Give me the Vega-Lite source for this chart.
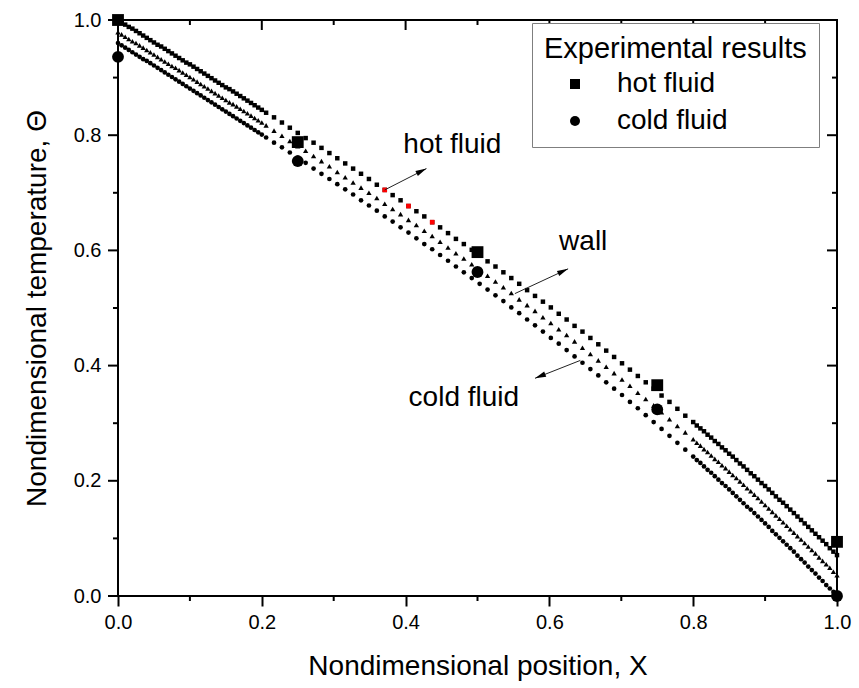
{
  "$schema": "https://vega.github.io/schema/vega-lite/v6.json",
  "width": 719,
  "height": 576,
  "autosize": {"type": "none"},
  "padding": {"left": 118, "top": 20, "right": 22, "bottom": 92},
  "background": "white",
  "config": {
    "font": "Liberation Sans",
    "view": {"stroke": "black", "strokeWidth": 2},
    "axis": {"grid": false, "domain": false, "ticks": false, "labelFlush": false, "labelColor": "black", "titleColor": "black", "labelFontSize": 20, "titleFontSize": 28, "titleFontWeight": "normal", "labelFont": "Liberation Sans", "titleFont": "Liberation Sans"}
  },
  "datasets": {
    "curves": [
      {"x":0,"h":1.000,"w":0.979,"c":0.960},{"x":0.005,"h":0.996,"w":0.975,"c":0.956},{"x":0.01,"h":0.992,"w":0.971,"c":0.952},{"x":0.015,"h":0.988,"w":0.967,"c":0.948},{"x":0.02,"h":0.985,"w":0.963,"c":0.944},{"x":0.025,"h":0.981,"w":0.960,"c":0.940},{"x":0.03,"h":0.977,"w":0.956,"c":0.936},{"x":0.035,"h":0.973,"w":0.952,"c":0.932},{"x":0.04,"h":0.969,"w":0.948,"c":0.929},{"x":0.045,"h":0.965,"w":0.944,"c":0.925},{"x":0.05,"h":0.961,"w":0.940,"c":0.921},{"x":0.055,"h":0.957,"w":0.936,"c":0.917},{"x":0.06,"h":0.954,"w":0.932,"c":0.913},{"x":0.065,"h":0.950,"w":0.928,"c":0.909},{"x":0.07,"h":0.946,"w":0.924,"c":0.905},{"x":0.075,"h":0.942,"w":0.920,"c":0.901},{"x":0.08,"h":0.938,"w":0.917,"c":0.897},{"x":0.085,"h":0.934,"w":0.913,"c":0.893},{"x":0.09,"h":0.930,"w":0.909,"c":0.889},{"x":0.095,"h":0.926,"w":0.905,"c":0.885},{"x":0.1,"h":0.923,"w":0.901,"c":0.881},{"x":0.105,"h":0.919,"w":0.897,"c":0.877},{"x":0.11,"h":0.915,"w":0.893,"c":0.873},{"x":0.115,"h":0.911,"w":0.889,"c":0.869},{"x":0.12,"h":0.907,"w":0.885,"c":0.865},{"x":0.125,"h":0.903,"w":0.881,"c":0.861},{"x":0.13,"h":0.899,"w":0.877,"c":0.857},{"x":0.135,"h":0.895,"w":0.873,"c":0.853},{"x":0.14,"h":0.891,"w":0.869,"c":0.849},{"x":0.145,"h":0.887,"w":0.865,"c":0.845},{"x":0.15,"h":0.883,"w":0.861,"c":0.841},{"x":0.155,"h":0.880,"w":0.857,"c":0.837},{"x":0.16,"h":0.876,"w":0.854,"c":0.833},{"x":0.165,"h":0.872,"w":0.850,"c":0.829},{"x":0.17,"h":0.868,"w":0.846,"c":0.825},{"x":0.175,"h":0.864,"w":0.842,"c":0.821},{"x":0.18,"h":0.860,"w":0.838,"c":0.817},{"x":0.185,"h":0.856,"w":0.834,"c":0.813},{"x":0.19,"h":0.852,"w":0.830,"c":0.809},{"x":0.195,"h":0.848,"w":0.826,"c":0.805},{"x":0.2,"h":0.844,"w":0.822,"c":0.801},
      {"x":0.206,"h":0.839,"w":0.817,"c":0.796},{"x":0.217,"h":0.831,"w":0.808,"c":0.787},{"x":0.228,"h":0.822,"w":0.799,"c":0.779},{"x":0.239,"h":0.813,"w":0.790,"c":0.770},{"x":0.25,"h":0.804,"w":0.781,"c":0.761},{"x":0.261,"h":0.795,"w":0.773,"c":0.752},{"x":0.272,"h":0.787,"w":0.764,"c":0.742},{"x":0.283,"h":0.778,"w":0.755,"c":0.733},{"x":0.294,"h":0.769,"w":0.746,"c":0.724},{"x":0.305,"h":0.760,"w":0.736,"c":0.715},{"x":0.316,"h":0.751,"w":0.727,"c":0.706},{"x":0.327,"h":0.742,"w":0.718,"c":0.697},{"x":0.338,"h":0.733,"w":0.709,"c":0.687},{"x":0.349,"h":0.724,"w":0.700,"c":0.678},{"x":0.36,"h":0.714,"w":0.691,"c":0.669},{"x":0.371,"h":0.705,"w":0.681,"c":0.659},{"x":0.382,"h":0.696,"w":0.672,"c":0.650},{"x":0.393,"h":0.687,"w":0.663,"c":0.640},{"x":0.404,"h":0.677,"w":0.653,"c":0.631},{"x":0.415,"h":0.668,"w":0.644,"c":0.621},{"x":0.426,"h":0.659,"w":0.634,"c":0.611},{"x":0.437,"h":0.649,"w":0.625,"c":0.602},{"x":0.448,"h":0.640,"w":0.615,"c":0.592},{"x":0.459,"h":0.630,"w":0.605,"c":0.582},{"x":0.47,"h":0.620,"w":0.595,"c":0.572},{"x":0.481,"h":0.611,"w":0.586,"c":0.562},{"x":0.492,"h":0.601,"w":0.576,"c":0.552},{"x":0.503,"h":0.591,"w":0.566,"c":0.542},{"x":0.514,"h":0.581,"w":0.556,"c":0.532},{"x":0.525,"h":0.572,"w":0.546,"c":0.522},{"x":0.536,"h":0.562,"w":0.536,"c":0.512},{"x":0.547,"h":0.552,"w":0.526,"c":0.501},{"x":0.558,"h":0.542,"w":0.515,"c":0.491},{"x":0.569,"h":0.531,"w":0.505,"c":0.480},{"x":0.58,"h":0.521,"w":0.495,"c":0.470},{"x":0.591,"h":0.511,"w":0.484,"c":0.459},{"x":0.602,"h":0.501,"w":0.474,"c":0.448},{"x":0.613,"h":0.490,"w":0.463,"c":0.438},{"x":0.624,"h":0.480,"w":0.453,"c":0.427},{"x":0.635,"h":0.469,"w":0.442,"c":0.416},{"x":0.646,"h":0.459,"w":0.431,"c":0.405},{"x":0.657,"h":0.448,"w":0.420,"c":0.394},{"x":0.668,"h":0.437,"w":0.409,"c":0.383},{"x":0.679,"h":0.426,"w":0.398,"c":0.371},{"x":0.69,"h":0.415,"w":0.387,"c":0.360},{"x":0.701,"h":0.404,"w":0.376,"c":0.349},{"x":0.712,"h":0.393,"w":0.365,"c":0.337},{"x":0.723,"h":0.382,"w":0.353,"c":0.326},{"x":0.734,"h":0.371,"w":0.342,"c":0.314},{"x":0.745,"h":0.360,"w":0.331,"c":0.302},{"x":0.756,"h":0.348,"w":0.319,"c":0.290},{"x":0.767,"h":0.337,"w":0.307,"c":0.278},{"x":0.778,"h":0.325,"w":0.295,"c":0.266},{"x":0.789,"h":0.313,"w":0.284,"c":0.254},{"x":0.8,"h":0.302,"w":0.272,"c":0.242},
      {"x":0.805,"h":0.296,"w":0.266,"c":0.236},{"x":0.81,"h":0.291,"w":0.261,"c":0.231},{"x":0.815,"h":0.286,"w":0.255,"c":0.225},{"x":0.82,"h":0.280,"w":0.250,"c":0.219},{"x":0.825,"h":0.275,"w":0.244,"c":0.214},{"x":0.83,"h":0.269,"w":0.238,"c":0.208},{"x":0.835,"h":0.264,"w":0.233,"c":0.202},{"x":0.84,"h":0.258,"w":0.227,"c":0.196},{"x":0.845,"h":0.253,"w":0.222,"c":0.191},{"x":0.85,"h":0.247,"w":0.216,"c":0.185},{"x":0.855,"h":0.242,"w":0.210,"c":0.179},{"x":0.86,"h":0.236,"w":0.205,"c":0.173},{"x":0.865,"h":0.230,"w":0.199,"c":0.167},{"x":0.87,"h":0.225,"w":0.193,"c":0.161},{"x":0.875,"h":0.219,"w":0.187,"c":0.155},{"x":0.88,"h":0.213,"w":0.182,"c":0.150},{"x":0.885,"h":0.208,"w":0.176,"c":0.144},{"x":0.89,"h":0.202,"w":0.170,"c":0.138},{"x":0.895,"h":0.196,"w":0.164,"c":0.132},{"x":0.9,"h":0.191,"w":0.158,"c":0.126},{"x":0.905,"h":0.185,"w":0.152,"c":0.120},{"x":0.91,"h":0.179,"w":0.146,"c":0.113},{"x":0.915,"h":0.173,"w":0.140,"c":0.107},{"x":0.92,"h":0.167,"w":0.134,"c":0.101},{"x":0.925,"h":0.162,"w":0.128,"c":0.095},{"x":0.93,"h":0.156,"w":0.122,"c":0.089},{"x":0.935,"h":0.150,"w":0.116,"c":0.083},{"x":0.94,"h":0.144,"w":0.110,"c":0.077},{"x":0.945,"h":0.138,"w":0.104,"c":0.070},{"x":0.95,"h":0.132,"w":0.098,"c":0.064},{"x":0.955,"h":0.126,"w":0.092,"c":0.058},{"x":0.96,"h":0.120,"w":0.086,"c":0.051},{"x":0.965,"h":0.114,"w":0.080,"c":0.045},{"x":0.97,"h":0.108,"w":0.074,"c":0.039},{"x":0.975,"h":0.102,"w":0.067,"c":0.032},{"x":0.98,"h":0.096,"w":0.061,"c":0.026},{"x":0.985,"h":0.090,"w":0.055,"c":0.019},{"x":0.99,"h":0.083,"w":0.049,"c":0.013},{"x":0.995,"h":0.077,"w":0.042,"c":0.007},{"x":1.0,"h":0.071,"w":0.036,"c":0.000}
    ],
    "tickpos": [
      {"v":0,"k":"major"},{"v":0.1,"k":"minor"},{"v":0.2,"k":"major"},{"v":0.3,"k":"minor"},{"v":0.4,"k":"major"},{"v":0.5,"k":"minor"},
      {"v":0.6,"k":"major"},{"v":0.7,"k":"minor"},{"v":0.8,"k":"major"},{"v":0.9,"k":"minor"},{"v":1,"k":"major"}
    ],
    "exp": [
      {"x":0,"y":1.0,"s":"hot fluid"},{"x":0.25,"y":0.788,"s":"hot fluid"},{"x":0.5,"y":0.597,"s":"hot fluid"},{"x":0.75,"y":0.366,"s":"hot fluid"},{"x":1.0,"y":0.094,"s":"hot fluid"},
      {"x":0,"y":0.936,"s":"cold fluid"},{"x":0.25,"y":0.755,"s":"cold fluid"},{"x":0.5,"y":0.5625,"s":"cold fluid"},{"x":0.75,"y":0.324,"s":"cold fluid"},{"x":1.0,"y":0.0,"s":"cold fluid"}
    ],
    "arrows": [
      {"n":"hot","x":0.371,"y":0.705,"x2":0.429,"y2":0.742},
      {"n":"wall","x":0.552,"y":0.525,"x2":0.626,"y2":0.568},
      {"n":"cold","x":0.643,"y":0.409,"x2":0.58,"y2":0.378}
    ],
    "notes": [
      {"t":"hot fluid","x":0.465,"y":0.769},
      {"t":"wall","x":0.647,"y":0.601},
      {"t":"cold fluid","x":0.481,"y":0.329}
    ]
  },
  "layer": [
    {
      "data": {"name": "tickpos"},
      "transform": [{"filter": {"field": "k", "equal": "major"}}],
      "mark": {"type": "point", "shape": "M0,0L-2,0", "filled": false, "size": 100, "strokeWidth": 2, "color": "black", "opacity": 1},
      "encoding": {
        "x": {"datum": 0, "type": "quantitative", "scale": {"domain": [0, 1], "nice": false, "zero": false},
              "axis": {"orient": "bottom", "values": [0, 0.2, 0.4, 0.6, 0.8, 1], "format": ".1f", "ticks": true, "tickSize": 10, "tickWidth": 2, "tickColor": "black", "labelPadding": 6, "title": "Nondimensional position, X", "titlePadding": 20}},
        "y": {"field": "v", "type": "quantitative", "scale": {"domain": [0, 1], "nice": false, "zero": false},
              "axis": {"orient": "left", "values": [0, 0.2, 0.4, 0.6, 0.8, 1], "format": ".1f", "labelPadding": 17, "title": "Nondimensional temperature, Θ", "titlePadding": 22}}
      }
    },
    {
      "data": {"name": "tickpos"},
      "transform": [{"filter": {"field": "k", "equal": "minor"}}],
      "mark": {"type": "point", "shape": "M0,0L0,2", "filled": false, "size": 25, "strokeWidth": 2, "color": "black", "opacity": 1},
      "encoding": {
        "x": {"field": "v", "type": "quantitative", "scale": {"domain": [0, 1], "nice": false, "zero": false}, "axis": null},
        "y": {"datum": 0, "type": "quantitative", "scale": {"domain": [0, 1], "nice": false, "zero": false}, "axis": null}
      }
    },
    {
      "data": {"name": "tickpos"},
      "transform": [{"filter": {"field": "k", "equal": "major"}}],
      "mark": {"type": "point", "shape": "M0,0L0,2", "filled": false, "size": 100, "strokeWidth": 2, "color": "black", "opacity": 1},
      "encoding": {
        "x": {"field": "v", "type": "quantitative", "scale": {"domain": [0, 1], "nice": false, "zero": false}, "axis": null},
        "y": {"datum": 1, "type": "quantitative", "scale": {"domain": [0, 1], "nice": false, "zero": false}, "axis": null}
      }
    },
    {
      "data": {"name": "tickpos"},
      "transform": [{"filter": {"field": "k", "equal": "minor"}}],
      "mark": {"type": "point", "shape": "M0,0L0,2", "filled": false, "size": 25, "strokeWidth": 2, "color": "black", "opacity": 1},
      "encoding": {
        "x": {"field": "v", "type": "quantitative", "scale": {"domain": [0, 1], "nice": false, "zero": false}, "axis": null},
        "y": {"datum": 1, "type": "quantitative", "scale": {"domain": [0, 1], "nice": false, "zero": false}, "axis": null}
      }
    },
    {
      "data": {"name": "tickpos"},
      "transform": [{"filter": {"field": "k", "equal": "minor"}}],
      "mark": {"type": "point", "shape": "M0,0L-2,0", "filled": false, "size": 25, "strokeWidth": 2, "color": "black", "opacity": 1},
      "encoding": {
        "y": {"field": "v", "type": "quantitative", "scale": {"domain": [0, 1], "nice": false, "zero": false}, "axis": null},
        "x": {"datum": 0, "type": "quantitative", "scale": {"domain": [0, 1], "nice": false, "zero": false}, "axis": null}
      }
    },
    {
      "data": {"name": "tickpos"},
      "transform": [{"filter": {"field": "k", "equal": "major"}}],
      "mark": {"type": "point", "shape": "M0,0L-2,0", "filled": false, "size": 100, "strokeWidth": 2, "color": "black", "opacity": 1},
      "encoding": {
        "y": {"field": "v", "type": "quantitative", "scale": {"domain": [0, 1], "nice": false, "zero": false}, "axis": null},
        "x": {"datum": 1, "type": "quantitative", "scale": {"domain": [0, 1], "nice": false, "zero": false}, "axis": null}
      }
    },
    {
      "data": {"name": "tickpos"},
      "transform": [{"filter": {"field": "k", "equal": "minor"}}],
      "mark": {"type": "point", "shape": "M0,0L-2,0", "filled": false, "size": 25, "strokeWidth": 2, "color": "black", "opacity": 1},
      "encoding": {
        "y": {"field": "v", "type": "quantitative", "scale": {"domain": [0, 1], "nice": false, "zero": false}, "axis": null},
        "x": {"datum": 1, "type": "quantitative", "scale": {"domain": [0, 1], "nice": false, "zero": false}, "axis": null}
      }
    },
    {
      "data": {"name": "curves"},
      "mark": {"type": "point", "shape": "square", "filled": true, "size": 20, "color": "black", "opacity": 1},
      "encoding": {
        "x": {"field": "x", "type": "quantitative", "scale": {"domain": [0, 1], "nice": false, "zero": false}, "axis": null},
        "y": {"field": "h", "type": "quantitative", "scale": {"domain": [0, 1], "nice": false, "zero": false}, "axis": null}
      }
    },
    {
      "data": {"name": "curves"},
      "mark": {"type": "point", "shape": "triangle-up", "filled": true, "size": 28, "color": "black", "opacity": 1},
      "encoding": {
        "x": {"field": "x", "type": "quantitative", "scale": {"domain": [0, 1], "nice": false, "zero": false}, "axis": null},
        "y": {"field": "w", "type": "quantitative", "scale": {"domain": [0, 1], "nice": false, "zero": false}, "axis": null}
      }
    },
    {
      "data": {"name": "curves"},
      "mark": {"type": "point", "shape": "circle", "filled": true, "size": 22, "color": "black", "opacity": 1},
      "encoding": {
        "x": {"field": "x", "type": "quantitative", "scale": {"domain": [0, 1], "nice": false, "zero": false}, "axis": null},
        "y": {"field": "c", "type": "quantitative", "scale": {"domain": [0, 1], "nice": false, "zero": false}, "axis": null}
      }
    },
    {
      "data": {"name": "curves"},
      "transform": [{"filter": {"field": "x", "oneOf": [0.371, 0.404, 0.437]}}],
      "mark": {"type": "point", "shape": "square", "filled": true, "size": 22, "color": "#ff0000", "opacity": 1},
      "encoding": {
        "x": {"field": "x", "type": "quantitative", "scale": {"domain": [0, 1], "nice": false, "zero": false}, "axis": null},
        "y": {"field": "h", "type": "quantitative", "scale": {"domain": [0, 1], "nice": false, "zero": false}, "axis": null}
      }
    },
    {
      "data": {"name": "exp"},
      "mark": {"type": "point", "filled": true, "size": 140, "color": "black", "opacity": 1},
      "encoding": {
        "x": {"field": "x", "type": "quantitative", "scale": {"domain": [0, 1], "nice": false, "zero": false}, "axis": null},
        "y": {"field": "y", "type": "quantitative", "scale": {"domain": [0, 1], "nice": false, "zero": false}, "axis": null},
        "shape": {"field": "s", "type": "nominal", "scale": {"domain": ["hot fluid", "cold fluid"], "range": ["square", "circle"]},
                  "legend": {"title": "Experimental results", "orient": "none", "legendX": 414, "legendY": 3, "padding": 12,
                             "strokeColor": "#7f7f7f", "fillColor": "white", "titleFontSize": 29, "titleFontWeight": "normal", "titleColor": "black",
                             "titleFont": "Liberation Sans", "labelFont": "Liberation Sans", "titlePadding": 6, "titleLimit": 600, "labelLimit": 600,
                             "labelFontSize": 28, "labelColor": "black", "symbolSize": 100, "symbolFillColor": "black", "symbolStrokeWidth": 0,
                             "symbolOffset": 17, "labelOffset": 28, "rowPadding": 9}}
      }
    },
    {
      "data": {"name": "arrows"},
      "mark": {"type": "rule", "color": "#222222", "strokeWidth": 1},
      "encoding": {
        "x": {"field": "x", "type": "quantitative", "scale": {"domain": [0, 1], "nice": false, "zero": false}, "axis": null},
        "y": {"field": "y", "type": "quantitative", "scale": {"domain": [0, 1], "nice": false, "zero": false}, "axis": null},
        "x2": {"field": "x2"},
        "y2": {"field": "y2"}
      }
    },
    {
      "data": {"name": "arrows"},
      "transform": [{"filter": {"field": "n", "equal": "hot"}}],
      "mark": {"type": "point", "shape": "M-2,-0.5L0,0L-2,0.5Z", "filled": true, "size": 121, "color": "black", "opacity": 1, "angle": -26.7},
      "encoding": {
        "x": {"field": "x2", "type": "quantitative", "scale": {"domain": [0, 1], "nice": false, "zero": false}, "axis": null},
        "y": {"field": "y2", "type": "quantitative", "scale": {"domain": [0, 1], "nice": false, "zero": false}, "axis": null}
      }
    },
    {
      "data": {"name": "arrows"},
      "transform": [{"filter": {"field": "n", "equal": "wall"}}],
      "mark": {"type": "point", "shape": "M-2,-0.5L0,0L-2,0.5Z", "filled": true, "size": 121, "color": "black", "opacity": 1, "angle": -24.5},
      "encoding": {
        "x": {"field": "x2", "type": "quantitative", "scale": {"domain": [0, 1], "nice": false, "zero": false}, "axis": null},
        "y": {"field": "y2", "type": "quantitative", "scale": {"domain": [0, 1], "nice": false, "zero": false}, "axis": null}
      }
    },
    {
      "data": {"name": "arrows"},
      "transform": [{"filter": {"field": "n", "equal": "cold"}}],
      "mark": {"type": "point", "shape": "M-2,-0.5L0,0L-2,0.5Z", "filled": true, "size": 121, "color": "black", "opacity": 1, "angle": 157.9},
      "encoding": {
        "x": {"field": "x2", "type": "quantitative", "scale": {"domain": [0, 1], "nice": false, "zero": false}, "axis": null},
        "y": {"field": "y2", "type": "quantitative", "scale": {"domain": [0, 1], "nice": false, "zero": false}, "axis": null}
      }
    },
    {
      "data": {"name": "notes"},
      "mark": {"type": "text", "fontSize": 28, "align": "center", "baseline": "alphabetic", "color": "black", "font": "Liberation Sans"},
      "encoding": {
        "x": {"field": "x", "type": "quantitative", "scale": {"domain": [0, 1], "nice": false, "zero": false}, "axis": null},
        "y": {"field": "y", "type": "quantitative", "scale": {"domain": [0, 1], "nice": false, "zero": false}, "axis": null},
        "text": {"field": "t"}
      }
    }
  ],
  "resolve": {"axis": {"x": "independent", "y": "independent"}}
}
